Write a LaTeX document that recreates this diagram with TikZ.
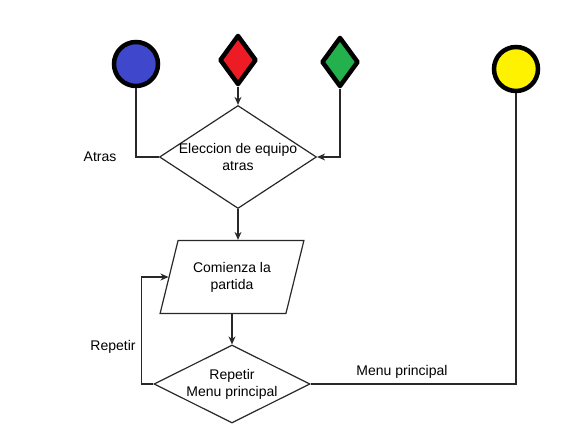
\documentclass[tikz,border=0pt]{standalone}
\usepackage{fontspec}
\setmainfont{Liberation Sans}
\usepackage{xcolor}
\usetikzlibrary{arrows.meta,calc,positioning,shapes.geometric}
\definecolor{azul}{RGB}{63,72,204}
\definecolor{rojo}{RGB}{237,28,36}
\definecolor{verde}{RGB}{34,177,76}
\definecolor{amarillo}{RGB}{255,242,0}
\definecolor{linea}{RGB}{40,40,40}

\begin{document}
\begin{tikzpicture}[x=1pt,y=-1pt,>={Stealth[length=8pt,width=7pt]},
  font=\fontsize{14}{17}\selectfont,
  ficha/.style={circle,draw=black,line width=4.5pt,minimum size=44pt,inner sep=0pt},
  rombo/.style={diamond,draw=black,line width=4.5pt,line join=round,minimum width=37pt,minimum height=50pt,inner sep=0pt},
  decision/.style={diamond,draw=linea,line width=1.2pt,inner sep=0pt},
  datos/.style={trapezium,trapezium left angle=69,trapezium right angle=111,trapezium stretches=true,
    draw=linea,line width=1.2pt,minimum width=144pt,minimum height=73pt,align=center},
  flecha/.style={draw=linea,line width=1.2pt}]
  \useasboundingbox (0,0) rectangle (571,438);
  \node[ficha,fill=azul] (azul) at (136,64) {};
  \node[rombo,fill=rojo] (rojo) at (238,60) {};
  \node[rombo,fill=verde] (verde) at (340,62) {};
  \node[ficha,fill=amarillo] (amarillo) at (516,69) {};
  \node[decision,minimum width=157pt,minimum height=103pt,
    label={[align=center]center:Eleccion de equipo\\atras}] (eleccion) at (238,157) {};
  \node[datos] (comienza) at (232,277) {Comienza la\\partida};
  \node[decision,minimum width=156pt,minimum height=78pt,
    label={[align=center]center:Repetir\\Menu principal}] (repetir) at (232,384) {};
  \node (atras) at (100,157) {Atras};
  \node (repetirtxt) at (113,347) {Repetir};
  \node (menutxt) at (402,372) {Menu principal};
  \draw[flecha] (azul.south) |- (eleccion.west);
  \draw[flecha,->] (rojo.south) -- (eleccion.north);
  \draw[flecha,->] (verde.south) |- (eleccion.east);
  \draw[flecha,->] (eleccion.south) -- (eleccion.south |- comienza.north);
  \draw[flecha,->] (repetir.north |- comienza.south) -- (repetir.north);
  \draw[flecha,->] (repetir.west) -- ++(-12,0) |- (comienza.west);
  \draw[flecha] (repetir.east) -| (amarillo.south);
\end{tikzpicture}
\end{document}
